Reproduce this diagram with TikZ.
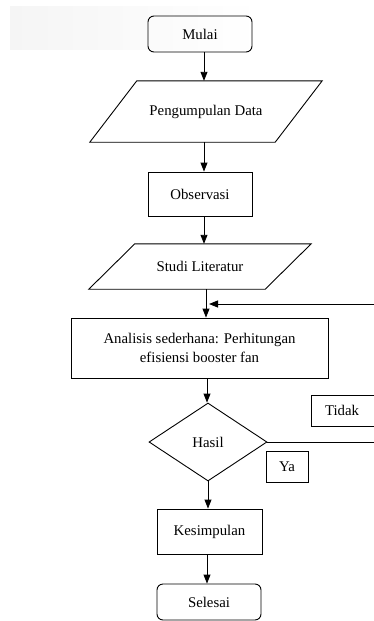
\documentclass[tikz,border=0pt]{standalone}
\usepackage{fontspec}
\setmainfont{Liberation Serif}
\usetikzlibrary{shapes.geometric,arrows.meta,fadings}
\begin{document}
\begin{tikzpicture}[x=1pt,y=-1pt,
  base/.style={draw=black,line width=0.9pt,inner sep=0pt,font=\fontsize{14.8}{19}\selectfont,text=black},
  term/.style={base,rounded corners=6pt,minimum width=104pt},
  proc/.style={base,rectangle},
  iotext/.style={inner sep=0pt,font=\fontsize{14.8}{19}\selectfont,text=black},
  ln/.style={draw=black,line width=0.9pt},
  arr/.style={ln,-{Triangle[width=7pt,length=9pt]}}]
\useasboundingbox (0,0) rectangle (373,621);
\fill[gray!8,path fading=east] (10,6) rectangle (260,50);
\node[term,minimum height=36pt] (mulai) at (200,34) {Mulai};
\node[iotext,minimum width=232pt,minimum height=61pt] (data) at (206,111.5) {Pengumpulan Data};
\draw[ln] (data.south west) -- ([xshift=47pt]data.north west) -- (data.north east) -- ([xshift=-47pt]data.south east) -- cycle;
\node[proc,minimum width=104pt,minimum height=44pt] (obs) at (200,194) {Observasi};
\node[iotext,minimum width=222pt,minimum height=45pt] (studi) at (200,266.5) {Studi Literatur};
\draw[ln] (studi.south west) -- ([xshift=46pt]studi.north west) -- (studi.north east) -- ([xshift=-46pt]studi.south east) -- cycle;
\node[proc,minimum width=257pt,minimum height=60pt,align=center] (anal) at (199.5,348) {Analisis sederhana: Perhitungan\\efisiensi booster fan};
\node[base,diamond,minimum width=118pt,minimum height=78pt] (hasil) at (208,442) {Hasil};
\node[proc,minimum width=105pt,minimum height=45pt] (kes) at (209.5,531.5) {Kesimpulan};
\node[term,minimum height=36pt] (sel) at (209,602) {Selesai};
\node[proc,minimum width=68pt,minimum height=31pt,text width=50pt,align=left,inner xsep=0pt] (tidak) at (345,410.5) {\hspace*{5pt}Tidak};
\node[proc,minimum width=42pt,minimum height=31pt] (ya) at (287,466.5) {Ya};
% connectors
\coordinate (c1) at ([xshift=4pt]mulai.south);
\draw[arr] (c1) -- (c1 |- data.north);
\coordinate (c2) at ([xshift=-2pt]data.south);
\draw[arr] (c2) -- (c2 |- obs.north);
\coordinate (c3) at ([xshift=4pt]obs.south);
\draw[arr] (c3) -- (c3 |- studi.north);
\coordinate (c4) at ([xshift=6pt]studi.south);
\draw[arr] (c4) -- (c4 |- anal.north);
\coordinate (c5) at ([xshift=7.5pt]anal.south);
\draw[arr] (c5) -- (c5 |- hasil.north);
\draw[arr] (hasil.south) -- (hasil.south |- kes.north);
\coordinate (c7) at ([xshift=-2.5pt]kes.south);
\draw[arr] (c7) -- (c7 |- sel.north);
\coordinate (back) at (209,304);
\draw[arr] (hasil.east) -- (378,442) -- (378,304) -- (back);
\end{tikzpicture}
\end{document}
